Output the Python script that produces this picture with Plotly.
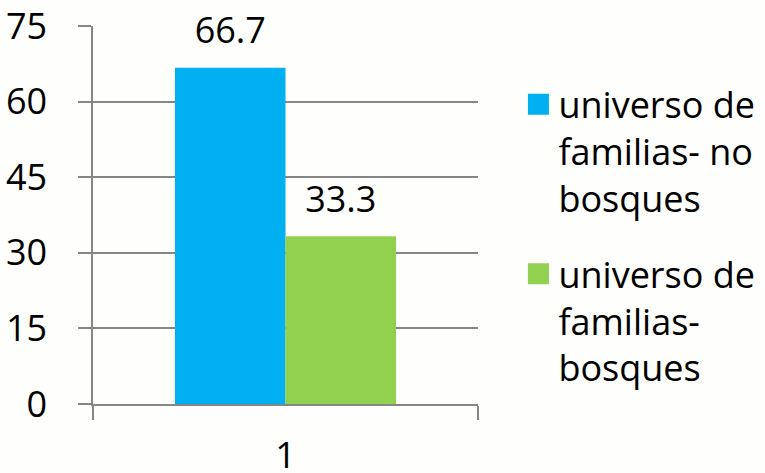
import plotly.graph_objects as go

# ==========================================
# Data
# ==========================================
categories = ["1"]
series_names = [
    "universo de<br>familias- no<br>bosques",
    "universo de<br>familias-<br>bosques",
]
series_values = [[66.7], [33.3]]
series_colors = ["#00b0f0", "#92d050"]
y_ticks = [0, 15, 30, 45, 60, 75]

FONT = "Open Sans"
GRID = "#868686"

fig = go.Figure()

# ==========================================
# Bars + value labels
# ==========================================
for i, (name, vals, color) in enumerate(zip(series_names, series_values, series_colors)):
    fig.add_trace(go.Bar(
        x=categories, y=vals, name=name,
        marker=dict(color=color, line=dict(width=0)),
        offsetgroup=str(i), showlegend=False,
    ))
    # value label above the bar (invisible marker just pushes text up)
    fig.add_trace(go.Scatter(
        x=categories, y=vals, mode="markers+text",
        text=[f"{v:.1f}" for v in vals], textposition="top center",
        textfont=dict(family=FONT, size=36, color="black"),
        marker=dict(size=23, opacity=0),
        offsetgroup=str(i), showlegend=False, cliponaxis=False,
        hoverinfo="skip",
    ))
    # legend proxy (bigger square than bar legend symbol)
    fig.add_trace(go.Scatter(
        x=[None], y=[None], mode="markers", name=name,
        marker=dict(symbol="square", size=16, color=color,
                    line=dict(color=color, width=5)),
        legendgroup=str(i),
    ))

# ==========================================
# Layout
# ==========================================
fig.update_layout(
    width=765, height=473,
    margin=dict(l=93, r=287, t=26, b=69, autoexpand=False),
    paper_bgcolor="#fefefc", plot_bgcolor="#fefefc",
    font=dict(family=FONT, size=36, color="black"),
    barmode="group", bargap=0.426, bargroupgap=0,
    scattermode="group",
    legend=dict(
        x=1.105, xanchor="left", y=0.872, yanchor="top",
        valign="top", tracegroupgap=26,
        font=dict(family=FONT, size=36),
        bgcolor="rgba(0,0,0,0)",
    ),
    xaxis=dict(
        type="category", showline=True, linecolor=GRID, linewidth=1.5,
        ticks="outside", tickson="boundaries", ticklen=14, tickcolor=GRID,
        tickwidth=1.5, showgrid=False, ticklabelstandoff=19,
    ),
    yaxis=dict(
        range=[0, 75], tickvals=y_ticks, showline=True, linecolor=GRID,
        linewidth=1.5, ticks="outside", ticklen=13, tickcolor=GRID,
        tickwidth=1.5, gridcolor=GRID, gridwidth=1.5, zeroline=False,
        ticklabelstandoff=24,
    ),
)

fig.write_html("out.html", config={"displayModeBar": False},
               post_script="document.body.style.margin='0';")
